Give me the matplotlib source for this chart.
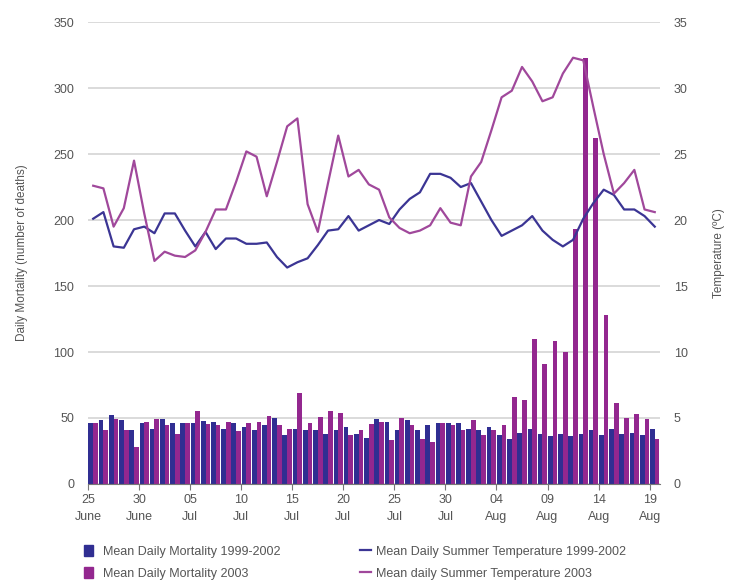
import numpy as np
import matplotlib
matplotlib.use("Agg")
import matplotlib.pyplot as plt
from matplotlib.patches import Patch
from matplotlib.lines import Line2D

plt.rcParams['font.family'] = ['Liberation Sans Narrow', 'Liberation Sans', 'DejaVu Sans']

# 25 June .. 19 Aug, one value per day
mort_1999_2002 = [46, 48.5, 52, 48.5, 41, 46, 42, 49, 46, 46,
                  46, 48, 47, 42, 46, 43, 41, 45, 50, 37,
                  42, 41, 41, 38, 41, 43, 38, 35, 49, 47,
                  41, 48.5, 41, 45, 46, 46, 46.5, 42, 41, 43,
                  37, 34, 39, 42, 38, 36, 38, 36, 38, 41,
                  37, 42, 38, 39, 37, 42]
mort_2003 = [46, 41, 49, 41, 28, 47, 49, 45, 38, 46,
             55.5, 45.5, 45, 47, 40, 46, 47, 51.5, 45, 42,
             69, 46.5, 51, 55.5, 54, 37, 41, 45.5, 47, 33,
             50, 45, 34, 32, 46, 45, 41, 48.5, 37, 41,
             45, 66, 64, 110, 91, 108, 100, 193, 323, 262,
             128, 61, 50, 53, 49, 34]
temp_1999_2002 = [20.1, 20.6, 18.0, 17.9, 19.3, 19.5, 19.0, 20.5, 20.5, 19.2,
                  18.0, 19.1, 17.8, 18.6, 18.6, 18.2, 18.2, 18.3, 17.2, 16.4,
                  16.8, 17.1, 18.1, 19.2, 19.3, 20.3, 19.2, 19.6, 20.0, 19.7,
                  20.8, 21.6, 22.1, 23.5, 23.5, 23.2, 22.5, 22.8, 21.4, 20.0,
                  18.8, 19.2, 19.6, 20.3, 19.2, 18.5, 18.0, 18.5, 20.1, 21.3,
                  22.3, 21.9, 20.8, 20.8, 20.3, 19.5]
temp_2003 = [22.6, 22.4, 19.5, 20.9, 24.5, 20.5, 16.9, 17.6, 17.3, 17.2,
             17.7, 19.1, 20.8, 20.8, 22.9, 25.2, 24.8, 21.8, 24.4, 27.1,
             27.7, 21.2, 19.1, 22.8, 26.4, 23.3, 23.8, 22.7, 22.3, 20.2,
             19.4, 19.0, 19.2, 19.6, 20.9, 19.8, 19.6, 23.3, 24.4, 26.8,
             29.3, 29.8, 31.6, 30.5, 29.0, 29.3, 31.1, 32.3, 32.1, 28.5,
             25.0, 22.0, 22.8, 23.8, 20.8, 20.6]
tick_labels = ["25\nJune", "30\nJune", "05\nJul", "10\nJul", "15\nJul", "20\nJul",
               "25\nJul", "30\nJul", "04\nAug", "09\nAug", "14\nAug", "19\nAug"]

blue = "#302e92"
purple = "#93278f"
blue_line = "#3b3594"
purple_line = "#a0489b"
txt = "#555555"

days = np.arange(len(mort_2003))

fig = plt.figure(figsize=(7.34, 5.81), dpi=100)
ax = fig.add_axes([0.12, 0.167, 0.779, 0.795])

ax.bar(days + 0.27, mort_1999_2002, 0.46, color=blue, zorder=2)
ax.bar(days + 0.73, mort_2003, 0.46, color=purple, zorder=2)

ax.set_xlim(0, len(days))
ax.set_ylim(0, 350)
ax.set_yticks(range(0, 351, 50))
ax.set_xticks(range(0, len(days), 5))
ax.set_xticklabels(tick_labels, linespacing=1.6)
ax.grid(axis='y', color='#d4d4d4', linewidth=1.2, zorder=0)
ax.set_axisbelow(True)
for s in ['left', 'top', 'right']:
    ax.spines[s].set_visible(False)
ax.spines['bottom'].set_color('#777777')
ax.tick_params(axis='y', length=0, labelsize=9, colors=txt, pad=10)
ax.tick_params(axis='x', length=4, color='#777777', labelsize=9, labelcolor=txt, pad=3)
ax.set_ylabel("Daily Mortality (number of deaths)", fontsize=8.5, color=txt, labelpad=18)

ax2 = ax.twinx()
ax2.plot(days + 0.5, temp_1999_2002, color=blue_line, linewidth=1.6, zorder=3)
ax2.plot(days + 0.5, temp_2003, color=purple_line, linewidth=1.6, zorder=3)
ax2.set_ylim(0, 35)
ax2.set_yticks(range(0, 36, 5))
for s in ['left', 'top', 'right', 'bottom']:
    ax2.spines[s].set_visible(False)
ax2.tick_params(axis='y', length=0, labelsize=9, colors=txt, pad=10)
ax2.set_ylabel("Temperature (ºC)", fontsize=8.5, color=txt, labelpad=18)

h_bars = [Patch(color=blue), Patch(color=purple)]
h_lines = [Line2D([], [], color=blue_line, lw=1.6), Line2D([], [], color=purple_line, lw=1.6)]
fig.legend(h_bars, ["Mean Daily Mortality 1999-2002", "Mean Daily Mortality 2003"],
           loc='upper left', bbox_to_anchor=(0.108, 0.07), frameon=False,
           handlelength=0.7, handleheight=0.9, handletextpad=0.8, labelspacing=0.75,
           fontsize=9, labelcolor=txt, borderaxespad=0)
fig.legend(h_lines, ["Mean Daily Summer Temperature 1999-2002", "Mean daily Summer Temperature 2003"],
           loc='upper left', bbox_to_anchor=(0.483, 0.07), frameon=False,
           handlelength=0.9, handleheight=0.9, handletextpad=0.4, labelspacing=0.75,
           fontsize=9, labelcolor=txt, borderaxespad=0)

fig.savefig("out.png", dpi=100)
